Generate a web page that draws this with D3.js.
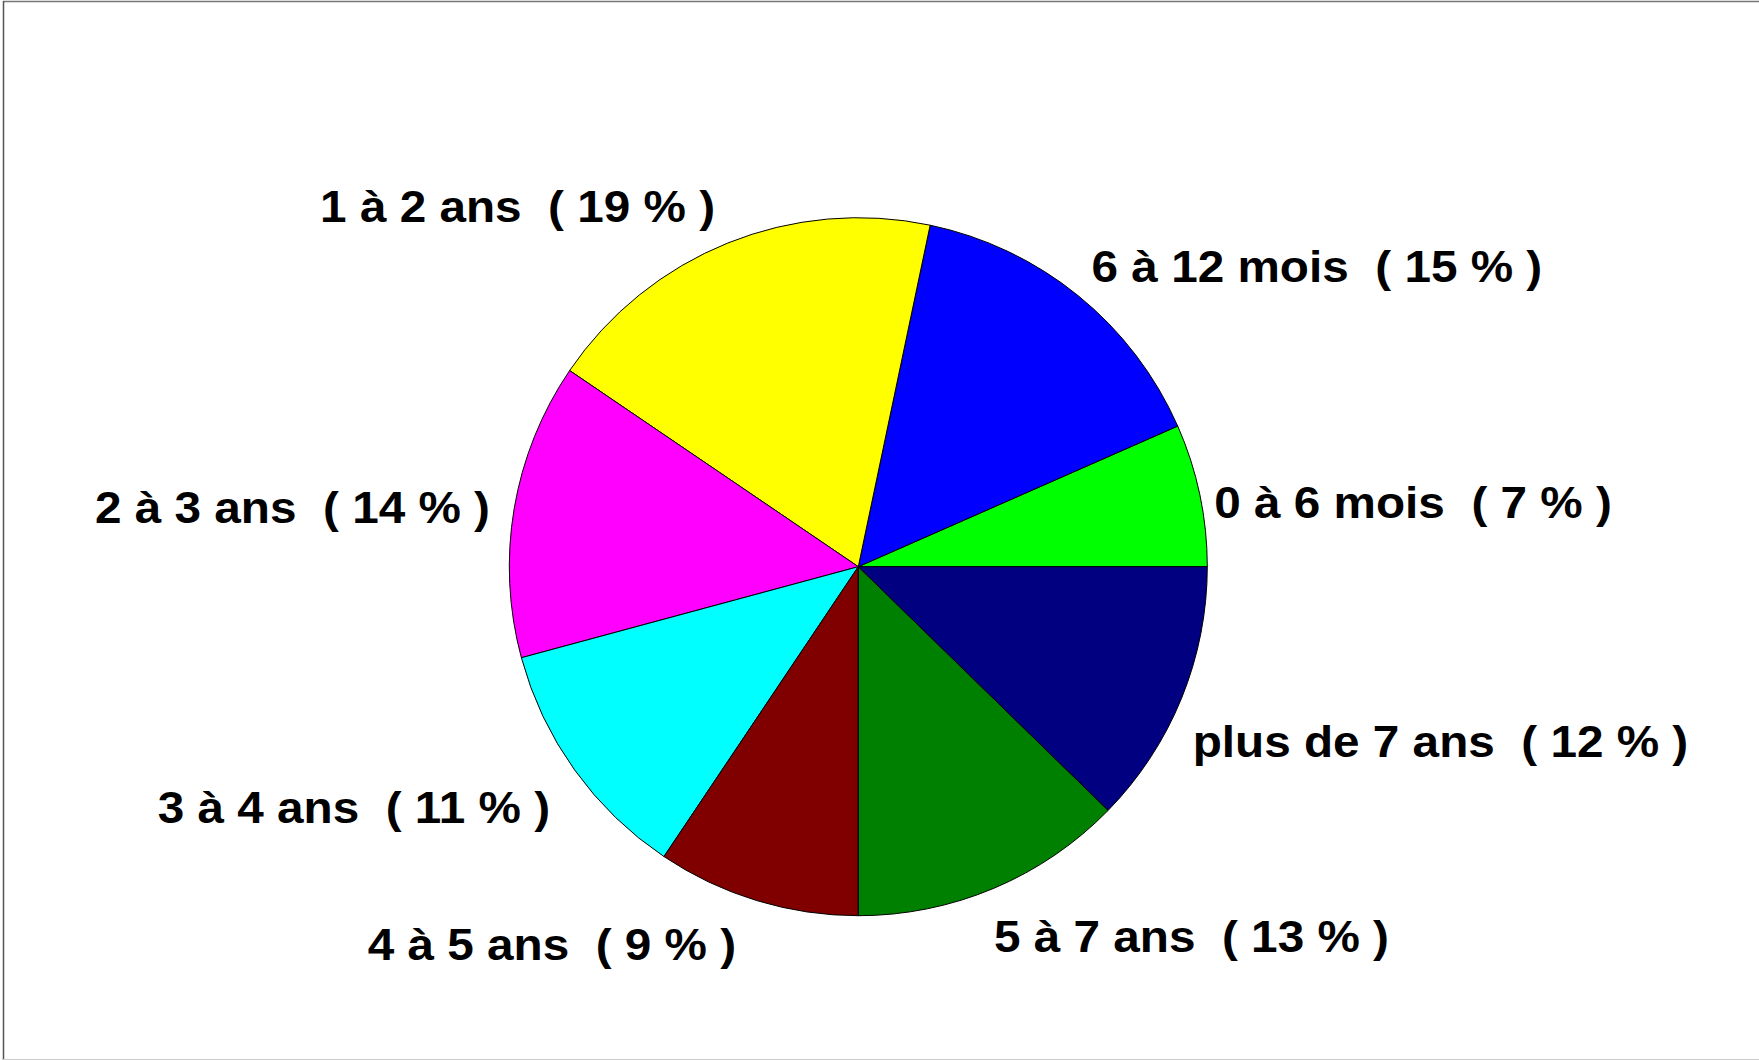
<!DOCTYPE html>
<html>
<head>
<meta charset="utf-8">
<script src="https://cdn.jsdelivr.net/npm/d3@7/dist/d3.min.js"></script>
<style>
  body { margin: 0; background: #fff; }
  svg { display: block; }
</style>
</head>
<body>
<svg id="chart"></svg>
<script>
// data, counter-clockwise from 3 o'clock
let categories = ['0 à 6 mois', '6 à 12 mois', '1 à 2 ans', '2 à 3 ans', '3 à 4 ans', '4 à 5 ans', '5 à 7 ans', 'plus de 7 ans'];
let shares = [6.6, 15.1, 18.8, 13.7, 11.4, 9.4, 12.7, 12.3];
let pctLabels = [7, 15, 19, 14, 11, 9, 13, 12];
let sliceColors = ['#00ff00', '#0000ff', '#ffff00', '#ff00ff', '#00ffff', '#800000', '#008000', '#000080'];

let width = 1759, height = 1060;
let cx = 858.3, cy = 566.7, radius = 349;
let labelDist = 375, capH = 31;
// small hand nudges so labels sit where the original put them
let labelNudge = {
    '0 à 6 mois': [-11, 16], '6 à 12 mois': [-3, 3], '1 à 2 ans': [-3, 2], '2 à 3 ans': [1.5, 5.5],
    '3 à 4 ans': [-3.5, 13], '4 à 5 ans': [-13, 4], '5 à 7 ans': [-10, 10], 'plus de 7 ans': [-13, 28]
};

let svg = d3.select('#chart').attr('width', width).attr('height', height);

// frame
svg.append('line').attr('x1', 3).attr('x2', width).attr('y1', 1.5).attr('y2', 1.5).style('stroke', '#777').style('stroke-width', 1.5);
svg.append('line').attr('x1', 3.5).attr('x2', 3.5).attr('y1', 1).attr('y2', height).style('stroke', '#555').style('stroke-width', 1.5);
svg.append('line').attr('x1', 3).attr('x2', width).attr('y1', 1059.5).attr('y2', 1059.5).style('stroke', '#ccc');

let tableData = categories.map((c, i) => ({cat: c, value: shares[i], pct: pctLabels[i], color: sliceColors[i]}));

// d3 angles go clockwise from 12 o'clock; start at 3 o'clock and go counter-clockwise
let pie = d3.pie().sort(null).value(d => d.value)
    .startAngle(Math.PI / 2).endAngle(Math.PI / 2 - 2 * Math.PI);
let arcs = pie(tableData);
let arc = d3.arc().innerRadius(0).outerRadius(radius);

let g = svg.append('g').attr('transform', 'translate(' + cx + ',' + cy + ')');

g.selectAll('.slice').data(arcs).enter().append('path')
    .attr('class', 'slice')
    .attr('d', arc)
    .style('fill', d => d.data.color)
    .style('stroke', '#000')
    .style('stroke-width', 1)
    .style('stroke-linejoin', 'round');

// labels (text in the original is a little wider than Arial, hence the scaleX)
g.selectAll('.label').data(arcs).enter().append('text')
    .attr('class', 'label')
    .each(function(d) {
        let mid = (d.startAngle + d.endAngle) / 2;     // d3 angle, clockwise from north
        let ux = Math.sin(mid), uy = -Math.cos(mid);   // unit vector, screen coords
        let nudge = labelNudge[d.data.cat];
        let x = ux * labelDist + nudge[0];
        let y = uy * labelDist + capH * (1 + uy) / 2 + nudge[1];
        d3.select(this)
            .attr('transform', 'translate(' + x + ',' + y + ') scale(1.06,1)')
            .attr('text-anchor', ux >= 0 ? 'start' : 'end');
    })
    .text(d => d.data.cat + '\u00a0\u00a0( ' + d.data.pct + ' % )')
    .style('font-family', '"Liberation Sans", Arial, sans-serif')
    .style('font-weight', 'bold')
    .style('font-size', '45px')
    .style('fill', '#000');
</script>
</body>
</html>
